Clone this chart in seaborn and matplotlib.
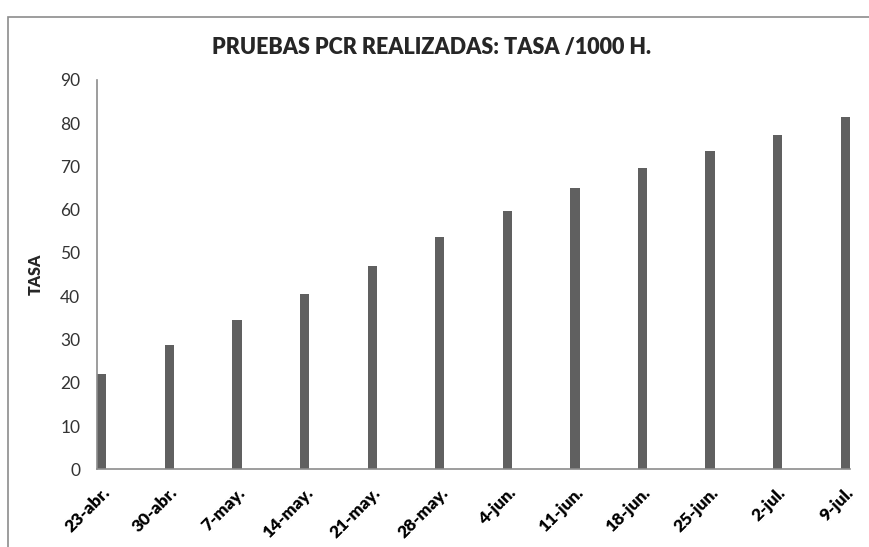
import matplotlib
matplotlib.use("Agg")
import matplotlib.pyplot as plt
import matplotlib.patches as patches
import seaborn as sns
import numpy as np

# fechas (semanales) y tasa de PCR por 1000 habitantes
fechas = ["23-abr.", "30-abr.", "7-may.", "14-may.", "21-may.", "28-may.",
          "4-jun.", "11-jun.", "18-jun.", "25-jun.", "2-jul.", "9-jul."]
dias = [0, 7, 14, 21, 28, 35, 42, 49, 56, 63, 70, 77]
tasa = [22.0, 28.7, 34.4, 40.5, 47.1, 53.8, 59.8, 64.9, 69.7, 73.5, 77.2, 81.5]

sns.set_style("white")
plt.rcParams['font.family'] = ['Lato', 'DejaVu Sans']

fig = plt.figure(figsize=(8.69, 5.47), dpi=100)
ax = fig.add_axes([0.1116, 0.142, 0.9782 - 0.1116, 0.712])

# eje de fechas: las barras van en su dia real
sns.barplot(x=dias, y=tasa, native_scale=True, width=0.137,
            color="#606060", saturation=1, edgecolor="none", ax=ax)

ax.set_xlim(-0.5, 77.5)
ax.set_ylim(0, 90)
ax.set_yticks(range(0, 91, 10))
ax.set_xticks(dias)
ax.set_xticklabels(fechas, rotation=45, ha="right", rotation_mode="anchor",
                   fontsize=12.5, fontweight="heavy", color="#000000")
ax.tick_params(axis="y", length=0, pad=12, labelsize=12.5, labelcolor="#333333")
ax.tick_params(axis="x", length=0, pad=11)

for s in ["top", "right"]:
    ax.spines[s].set_visible(False)
for s in ["left", "bottom"]:
    ax.spines[s].set_color("#8c8c8c")
    ax.spines[s].set_linewidth(1.2)

ax.set_ylabel("TASA", fontsize=11.5, fontweight="heavy", labelpad=12)
ax.set_xlabel("")
fig.text(0.497, 0.914, "PRUEBAS PCR REALIZADAS: TASA /1000 H.",
         ha="center", va="center", fontsize=15.5, fontweight="heavy")

# marco del grafico
fig.patches.append(patches.Rectangle((8 / 869, -0.05), 1.1, 1 - 17 / 547 + 0.05,
                                     transform=fig.transFigure, fill=False,
                                     edgecolor="#8c8c8c", linewidth=1.2))

fig.savefig("out.png", dpi=100)
